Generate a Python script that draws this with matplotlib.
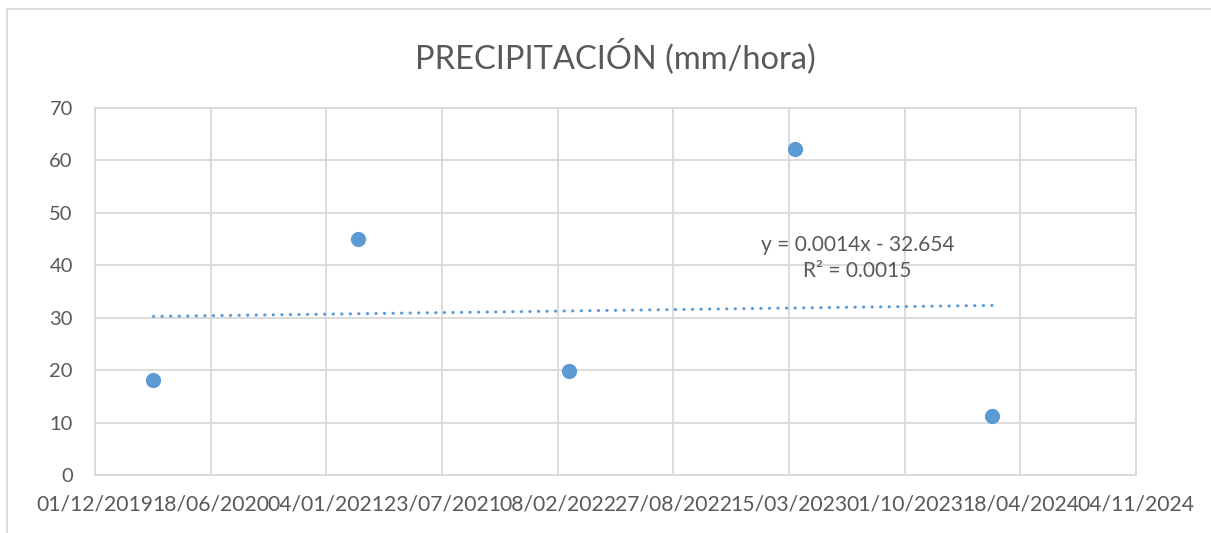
import numpy as np
import pandas as pd
import matplotlib
matplotlib.use("Agg")
import matplotlib.pyplot as plt
import matplotlib.dates as mdates
from matplotlib.patches import Rectangle

# datos
fechas = ["2020-03-11", "2021-02-27", "2022-02-28", "2023-03-26", "2024-02-29"]
precipitacion = [18.1, 45.0, 19.9, 62.2, 11.3]
ecuacion = "y = 0.0014x - 32.654"
r2 = "R² = 0.0015"

x_ini = "2019-12-01"
x_fin = "2024-11-04"
paso_dias = 200

azul = "#5B9BD5"
gris_txt = "#595959"
gris_lin = "#D9D9D9"

plt.rcParams['font.family'] = ['Lato', 'DejaVu Sans']

x = mdates.date2num(pd.to_datetime(fechas))
y = np.array(precipitacion)

fig = plt.figure(figsize=(12.11, 5.33), dpi=100)
ax = fig.add_axes([0.07845, 0.10882, 0.85962, 0.68855])

# marco del grafico
fig.patches.append(Rectangle((7 / 1211, -0.1), 1.2, 1 - 9 / 533 + 0.1,
                             transform=fig.transFigure, fill=False,
                             edgecolor=gris_lin, linewidth=1.3))

ax.scatter(x, y, s=120, color=azul, zorder=3, linewidths=0)

# linea de tendencia lineal
m, b = np.polyfit(x, y, 1)
xt = np.array([x.min(), x.max()])
ax.plot(xt, m * xt + b, color=azul, lw=2.2, linestyle=(0, (0.1, 2.7)),
        dash_capstyle='round', zorder=2)

ax.text(0.7325, 0.592, ecuacion + "\n" + r2, transform=ax.transAxes,
        ha='center', va='center', fontsize=15, color=gris_txt, linespacing=1.35)

x0 = mdates.date2num(pd.Timestamp(x_ini))
x1 = mdates.date2num(pd.Timestamp(x_fin))
ax.set_xlim(x0, x1)
ax.set_xticks(np.arange(x0, x1 + 1, paso_dias))
ax.xaxis.set_major_formatter(mdates.DateFormatter("%d/%m/%Y"))
ax.set_ylim(0, 70)
ax.set_yticks(range(0, 71, 10))

ax.grid(True, color=gris_lin, linewidth=1.3)
ax.set_axisbelow(True)
for sp in ax.spines.values():
    sp.set_color(gris_lin)
    sp.set_linewidth(1.3)
ax.tick_params(length=0, labelsize=15.2, colors=gris_txt)
ax.tick_params(axis='y', labelsize=14.5, pad=16)
ax.tick_params(axis='x', pad=14)

ax.set_title("PRECIPITACIÓN (mm/hora)", fontsize=23.5, color=gris_txt, pad=29)

fig.savefig("out.png", dpi=100, facecolor="white")
plt.close()
